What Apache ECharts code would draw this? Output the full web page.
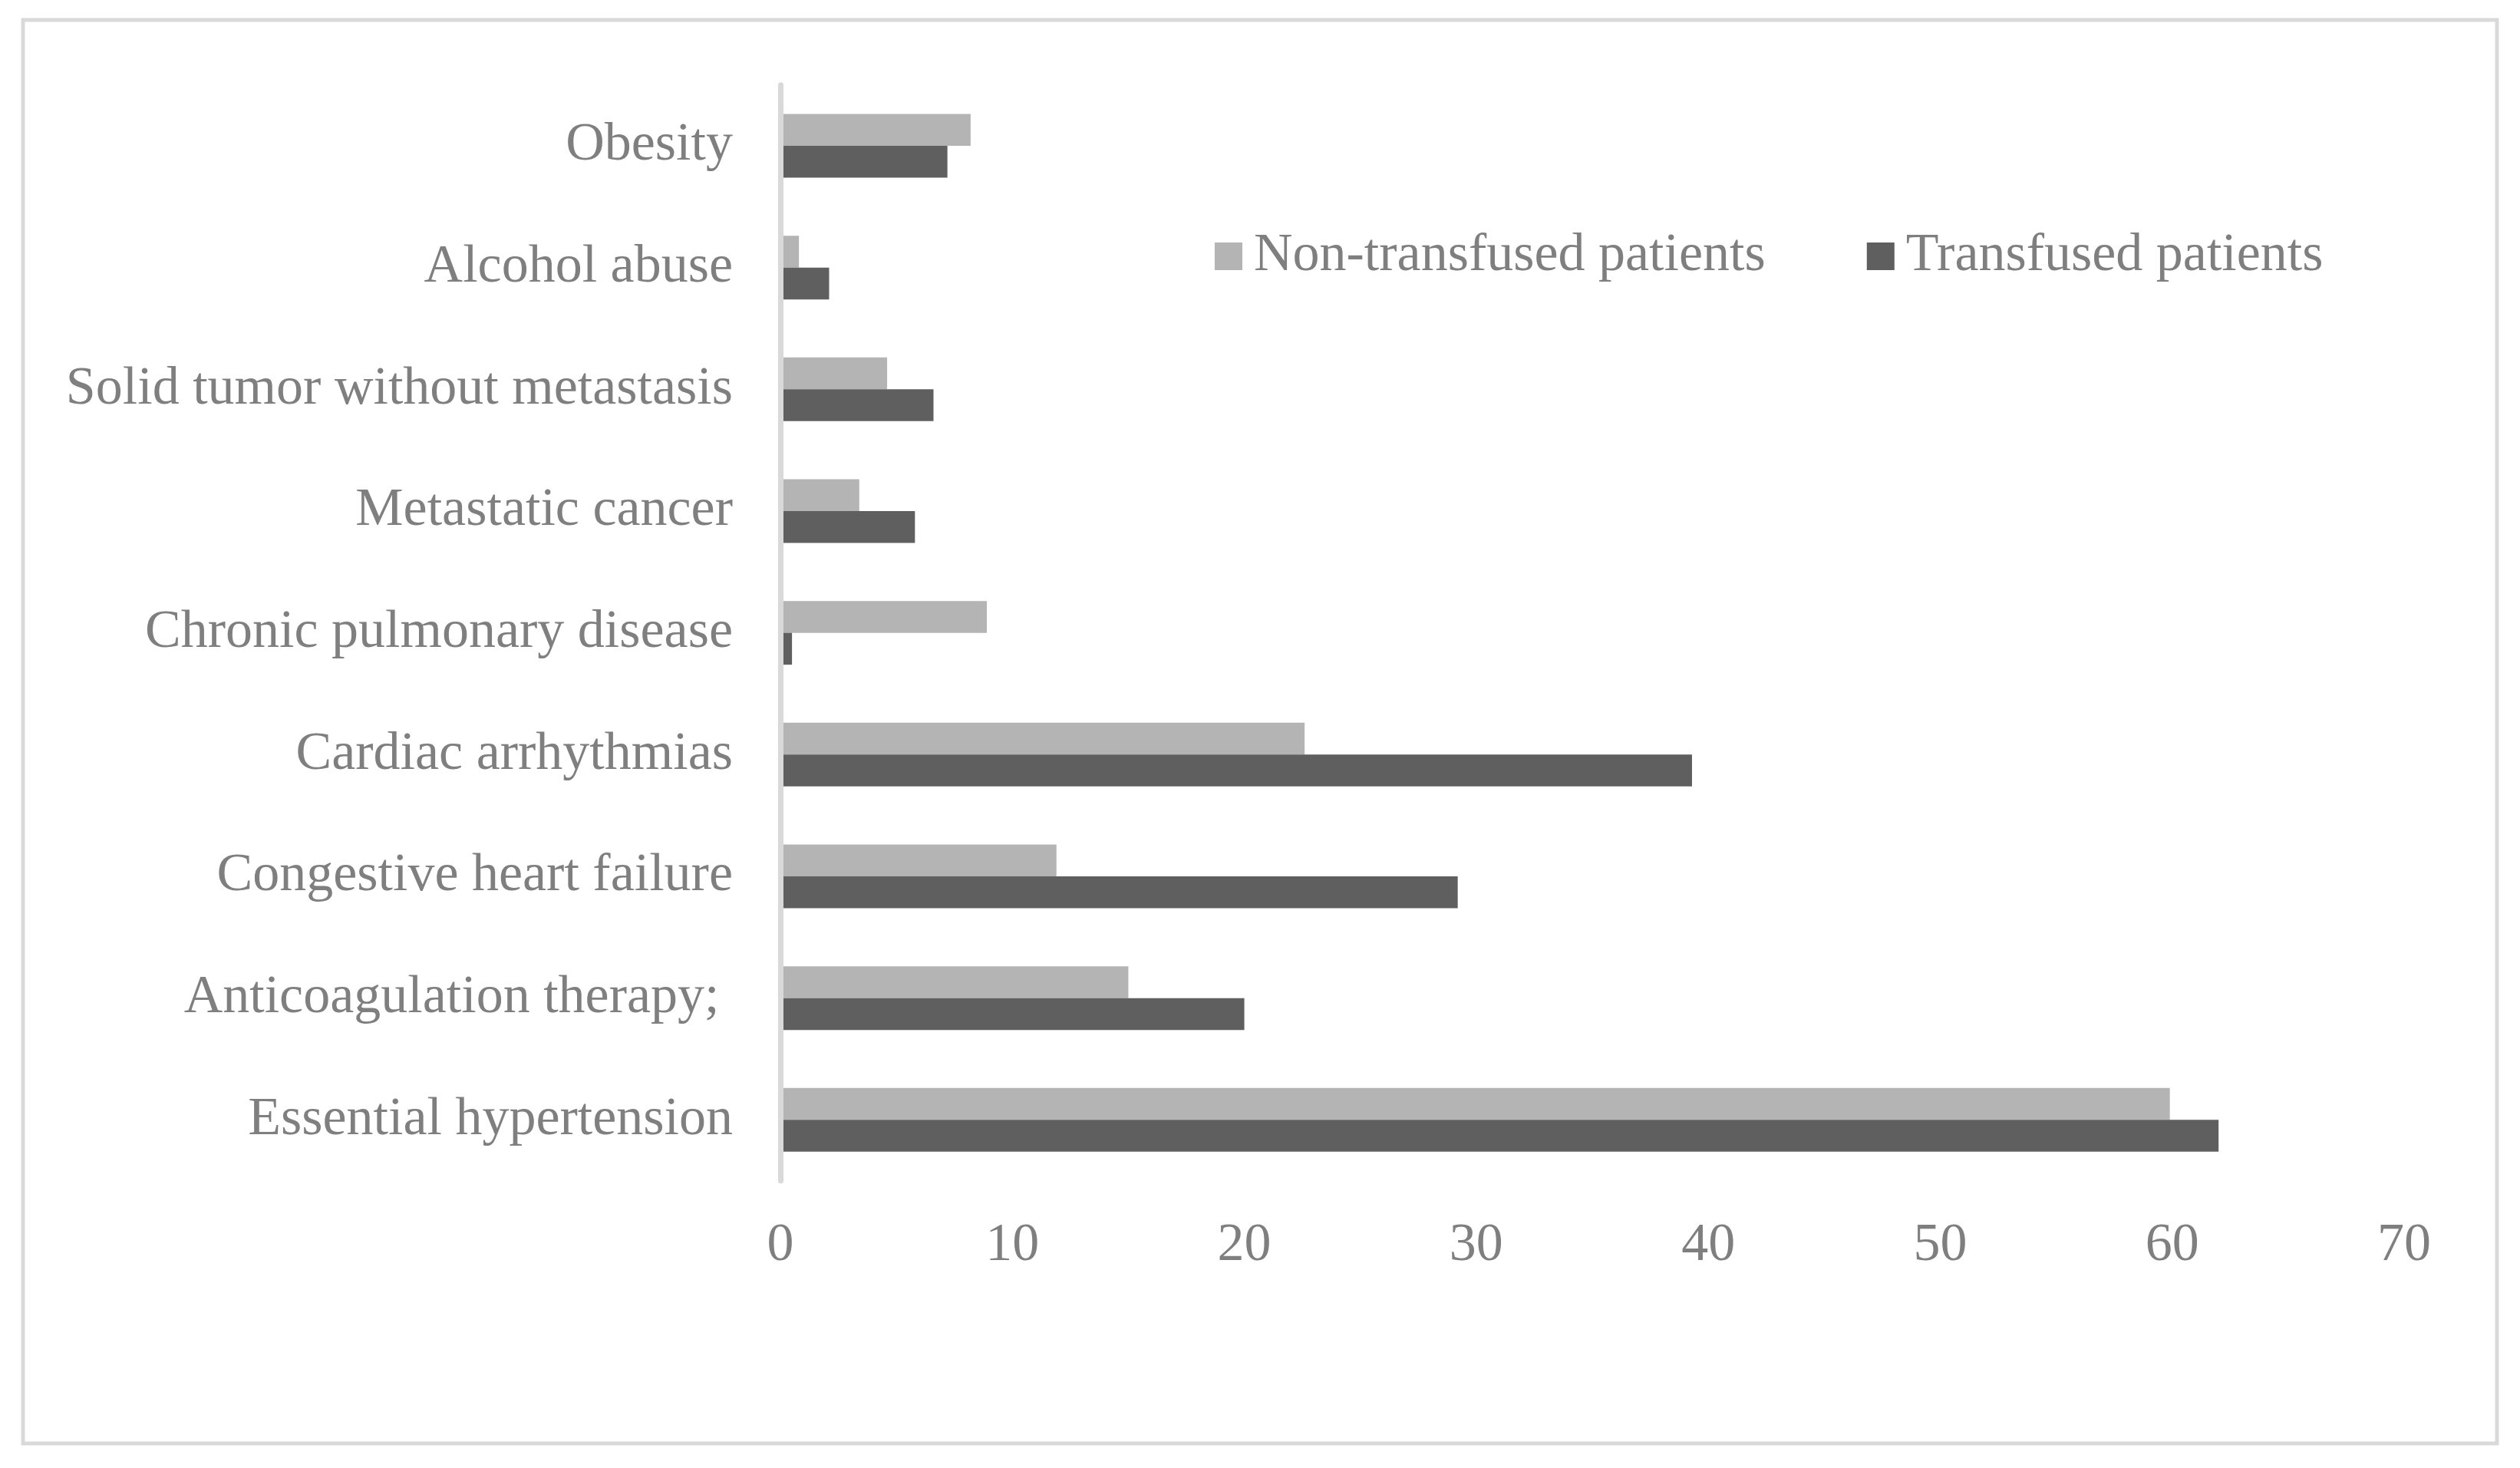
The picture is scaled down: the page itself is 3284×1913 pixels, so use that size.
<!DOCTYPE html>
<html>
<head>
<meta charset="utf-8">
<script src="https://cdn.jsdelivr.net/npm/echarts@6/dist/echarts.min.js"></script>
<style>
html,body{margin:0;padding:0;background:#fff;}
#chart{width:3284px;height:1913px;}
</style>
</head>
<body>
<div id="chart"></div>
<script>
const categories = [
  "Essential hypertension",
  "Anticoagulation therapy; ",
  "Congestive heart failure",
  "Cardiac arrhythmias",
  "Chronic pulmonary disease",
  "Metastatic cancer",
  "Solid tumor without metastasis",
  "Alcohol abuse",
  "Obesity"
];
const nonTransfused = [59.9, 15.0, 11.9, 22.6, 8.9, 3.4, 4.6, 0.8, 8.2];
const transfused = [62.0, 20.0, 29.2, 39.3, 0.5, 5.8, 6.6, 2.1, 7.2];
const xTicks = [0, 10, 20, 30, 40, 50, 60, 70];

const FONT = "'Liberation Serif', 'Times New Roman', serif";
const TEXT = '#7f7f7f';

const chart = echarts.init(document.getElementById('chart'), null, {renderer: 'canvas'});
chart.setOption({
  backgroundColor: '#ffffff',
  animation: false,
  graphic: [{
    type: 'rect',
    shape: {x: 30, y: 26, width: 3224, height: 1855},
    style: {fill: 'none', stroke: '#d9d9d9', lineWidth: 5},
    z: -1
  }],
  legend: {
    left: 1578,
    top: 294,
    itemWidth: 36,
    itemHeight: 36,
    itemGap: 132,
    icon: 'rect',
    textStyle: {fontFamily: FONT, fontSize: 70, color: TEXT, padding: [0, 0, 0, 10]},
    data: ['Non-transfused patients', 'Transfused patients']
  },
  grid: {left: 1017, top: 110.7, width: 2116, height: 1428, containLabel: false},
  xAxis: {
    type: 'value',
    min: xTicks[0],
    max: xTicks[xTicks.length - 1],
    interval: 10,
    axisLine: {show: false},
    axisTick: {show: false},
    splitLine: {show: false},
    axisLabel: {fontFamily: FONT, fontSize: 70, color: TEXT, margin: 50}
  },
  yAxis: {
    type: 'category',
    data: categories,
    z: 3,
    axisLine: {show: true, lineStyle: {color: '#d9d9d9', width: 7}},
    axisTick: {show: false},
    axisLabel: {fontFamily: FONT, fontSize: 70, color: TEXT, margin: 62}
  },
  series: [
    {
      name: 'Non-transfused patients',
      type: 'bar',
      data: nonTransfused,
      barWidth: 41.5,
      barGap: '0%',
      itemStyle: {color: '#b4b4b4'}
    },
    {
      name: 'Transfused patients',
      type: 'bar',
      data: transfused,
      barWidth: 41.5,
      barGap: '0%',
      itemStyle: {color: '#5f5f5f'}
    }
  ]
});
</script>
</body>
</html>
